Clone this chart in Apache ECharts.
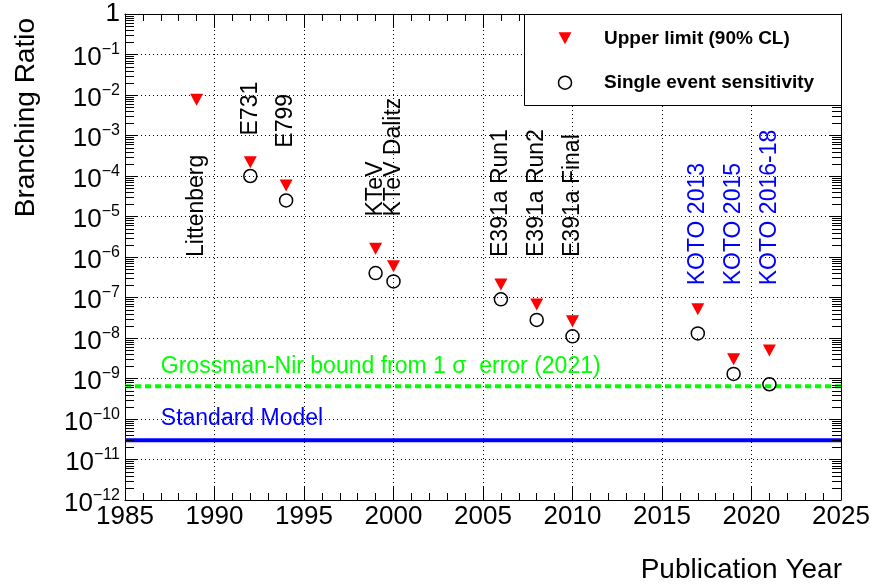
<!DOCTYPE html>
<html>
<head>
<meta charset="utf-8">
<script src="https://cdn.jsdelivr.net/npm/echarts@6/dist/echarts.min.js"></script>
<style>
  html, body { margin: 0; padding: 0; background: #ffffff; }
  #chart { width: 877px; height: 588px; }
</style>
</head>
<body>
<div id="chart"></div>
<script>
// Upper limits (90% CL) by publication year
const ulYears  = [1989, 1992, 1994, 1999, 2000, 2006, 2008, 2010, 2017, 2019, 2021];
const ulValues = [7.6e-3, 2.2e-4, 5.8e-5, 1.6e-6, 5.9e-7, 2.1e-7, 6.7e-8, 2.6e-8, 5.1e-8, 3.0e-9, 4.9e-9];

// Single event sensitivities by publication year
const sesYears  = [1992, 1994, 1999, 2000, 2006, 2008, 2010, 2017, 2019, 2021];
const sesValues = [1.0e-4, 2.5e-5, 4.0e-7, 2.5e-7, 9.0e-8, 2.8e-8, 1.1e-8, 1.3e-8, 1.3e-9, 7.2e-10];

// Experiment names, written vertically starting at (year, base)
const expNames  = ['Littenberg', 'E731', 'E799', 'KTeV', 'KTeV Dalitz', 'E391a Run1', 'E391a Run2', 'E391a Final', 'KOTO 2013', 'KOTO 2015', 'KOTO 2016-18'];
const expYears  = [1989, 1992, 1994, 1999, 2000, 2006, 2008, 2010, 2017, 2019, 2021];
const expBase   = [1e-6, 1e-3, 5e-4, 1e-5, 1e-5, 1e-6, 1e-6, 1e-6, 2e-7, 2e-7, 2e-7];
const expColors = ['#000000', '#000000', '#000000', '#000000', '#000000', '#000000', '#000000', '#000000', '#0000ff', '#0000ff', '#0000ff'];

// Reference levels
const yearRange = [1985, 2025];
const gnBound   = 6.4e-10;   // Grossman-Nir bound
const smValue   = 3.0e-11;   // Standard Model prediction
const gnText    = 'Grossman-Nir bound from 1 \u03c3  error (2021)';
const smText    = 'Standard Model';
const gnTextPos = [1987, 2e-9];
const smTextPos = [1987, 1e-10];

// Axis ranges
const yMin = 1e-12, yMax = 1;
const xTickStep = 5;
const logMantissas = [2, 3, 4, 5, 6, 7, 8, 9];

const FONT = '"Liberation Sans", Arial, Helvetica, sans-serif';

const chart = echarts.init(document.getElementById('chart'), null, { renderer: 'canvas' });

const axisLineStyle = { color: '#000', width: 1 };
const gridDots = { color: '#000', width: 1, type: [1, 3] };

function yLabel(v) {
  const e = Math.round(Math.log10(v));
  if (e === 0) return '{one|1}';
  return '{b|10}{s|\u2212' + (-e) + '}';
}

// Legend box (drawn above the grid lines) and axis titles
const LZ = 100;
const legendAndTitles = [
  {
    type: 'group', id: 'legend', z: LZ,
    children: [
      { type: 'rect', z: LZ, shape: { x: 524.5, y: 14.5, width: 317, height: 91 }, style: { fill: '#fff', stroke: '#000', lineWidth: 1 } },
      { type: 'polygon', z: LZ + 1, shape: { points: [[558.5, 32.3], [571.5, 32.3], [565, 44.3]] }, style: { fill: '#ff0000' } },
      { type: 'circle', z: LZ + 1, shape: { cx: 565, cy: 82.7, r: 6.5 }, style: { fill: 'rgba(0,0,0,0)', stroke: '#000', lineWidth: 1.5 } },
      { type: 'text', z: LZ + 1, x: 604, y: 38.5, style: { text: 'Upper limit (90% CL)', font: 'bold 19px ' + FONT, fill: '#000', verticalAlign: 'middle' } },
      { type: 'text', z: LZ + 1, x: 604, y: 82.5, style: { text: 'Single event sensitivity', font: 'bold 19px ' + FONT, fill: '#000', verticalAlign: 'middle' } }
    ]
  },
  {
    type: 'text', id: 'xname', z: LZ, x: 842, y: 570,
    style: { text: 'Publication Year', font: '28px ' + FONT, fill: '#000', align: 'right', verticalAlign: 'middle' }
  },
  {
    type: 'text', id: 'yname', z: LZ, x: 26, y: 18, rotation: Math.PI / 2,
    style: { text: 'Branching Ratio', font: '28px ' + FONT, fill: '#000', align: 'right', verticalAlign: 'middle' }
  }
];

const option = {
  backgroundColor: '#ffffff',
  animation: false,
  grid: { left: 125, right: 36, top: 14, bottom: 88, containLabel: false },
  xAxis: [
    {
      type: 'value', min: yearRange[0], max: yearRange[1], interval: xTickStep, position: 'bottom',
      axisLine: { show: true, lineStyle: axisLineStyle },
      axisTick: { show: true, inside: true, length: 14, lineStyle: axisLineStyle },
      minorTick: { show: true, splitNumber: 5, length: 7, lineStyle: axisLineStyle },
      splitLine: { show: true, lineStyle: gridDots },
      axisLabel: { show: true, fontSize: 26, fontFamily: FONT, color: '#000', margin: 4, formatter: v => String(v) }
    },
    {
      type: 'value', min: yearRange[0], max: yearRange[1], interval: xTickStep, position: 'top',
      axisLine: { show: true, lineStyle: axisLineStyle },
      axisTick: { show: true, inside: true, length: 14, lineStyle: axisLineStyle },
      minorTick: { show: true, splitNumber: 5, length: 7, lineStyle: axisLineStyle },
      splitLine: { show: false },
      axisLabel: { show: false }
    }
  ],
  yAxis: [
    {
      type: 'log', logBase: 10, min: yMin, max: yMax, interval: 1, position: 'left',
      axisLine: { show: true, lineStyle: axisLineStyle },
      axisTick: { show: true, inside: true, length: 12, lineStyle: axisLineStyle },
      splitLine: { show: true, lineStyle: gridDots },
      axisLabel: {
        show: true, margin: 5, formatter: yLabel,
        rich: {
          one: { fontSize: 26, fontFamily: FONT, color: '#000' },
          b: { fontSize: 26, fontFamily: FONT, color: '#000', padding: [7, 0, 0, 0] },
          s: { fontSize: 16, fontFamily: FONT, color: '#000', padding: [0, 0, 9, 0] }
        }
      }
    },
    {
      type: 'log', logBase: 10, min: yMin, max: yMax, interval: 1, position: 'right',
      axisLine: { show: true, lineStyle: axisLineStyle },
      axisTick: { show: true, inside: true, length: 12, lineStyle: axisLineStyle },
      splitLine: { show: false },
      axisLabel: { show: false }
    }
  ],
  series: [
    {
      name: 'Grossman-Nir bound',
      type: 'line', silent: true, symbol: 'none', z: 4,
      data: [[yearRange[0], gnBound], [yearRange[1], gnBound]],
      lineStyle: { color: '#00ff00', width: 4, type: [6, 4] }
    },
    {
      name: 'Standard Model',
      type: 'line', silent: true, symbol: 'none', z: 4,
      data: [[yearRange[0], smValue], [yearRange[1], smValue]],
      lineStyle: { color: '#0000ff', width: 4, type: 'solid' }
    },
    {
      // experiment names, vertical
      type: 'custom', silent: true, clip: false, z: 5,
      data: expYears.map((y, i) => [y, expBase[i]]),
      encode: { x: 0, y: 1 },
      renderItem: function (params, api) {
        const i = params.dataIndex;
        const p = api.coord([api.value(0), api.value(1)]);
        return {
          type: 'text', x: p[0], y: p[1], rotation: Math.PI / 2,
          style: { text: expNames[i], fill: expColors[i], font: '23px ' + FONT, align: 'left', verticalAlign: 'middle' }
        };
      }
    },
    {
      // labels of the reference levels
      type: 'custom', silent: true, clip: false, z: 5,
      data: [gnTextPos, smTextPos],
      encode: { x: 0, y: 1 },
      renderItem: function (params, api) {
        const i = params.dataIndex;
        const p = api.coord([api.value(0), api.value(1)]);
        return {
          type: 'text', x: p[0], y: p[1],
          style: { text: i === 0 ? gnText : smText, fill: i === 0 ? '#00ff00' : '#0000ff', font: '23px ' + FONT, align: 'left', verticalAlign: 'middle' }
        };
      }
    },
    {
      name: 'Upper limit (90% CL)',
      type: 'scatter', z: 6,
      data: ulYears.map((y, i) => [y, ulValues[i]]),
      symbol: 'triangle', symbolRotate: 180, symbolSize: [13, 12],
      itemStyle: { color: '#ff0000', opacity: 1 }
    },
    {
      name: 'Single event sensitivity',
      type: 'scatter', z: 6,
      data: sesYears.map((y, i) => [y, sesValues[i]]),
      symbol: 'circle', symbolSize: 13,
      itemStyle: { color: 'rgba(0,0,0,0)', borderColor: '#000', borderWidth: 1.5, opacity: 1 }
    }
  ],
  graphic: legendAndTitles
};

chart.setOption(option);

// Minor ticks of the log axis (2..9 in every decade), on the left and right frame edges
function logMinorTickGraphics() {
  const children = [];
  const len = 9;
  for (let e = -12; e < 0; e++) {
    logMantissas.forEach(m => {
      const v = m * Math.pow(10, e);
      const l = chart.convertToPixel({ gridIndex: 0 }, [yearRange[0], v]);
      const r = chart.convertToPixel({ gridIndex: 0 }, [yearRange[1], v]);
      const y = Math.round(l[1]) + 0.5;
      const xl = Math.round(l[0]);
      const xr = Math.round(r[0]);
      children.push({ type: 'line', z: 50, shape: { x1: xl, y1: y, x2: xl + len, y2: y }, style: { stroke: '#000', lineWidth: 1 } });
      children.push({ type: 'line', z: 50, shape: { x1: xr, y1: y, x2: xr - len, y2: y }, style: { stroke: '#000', lineWidth: 1 } });
    });
  }
  return { type: 'group', id: 'logMinor', z: 50, silent: true, children: children };
}

chart.setOption({ graphic: legendAndTitles.concat([logMinorTickGraphics()]) });
</script>
</body>
</html>
